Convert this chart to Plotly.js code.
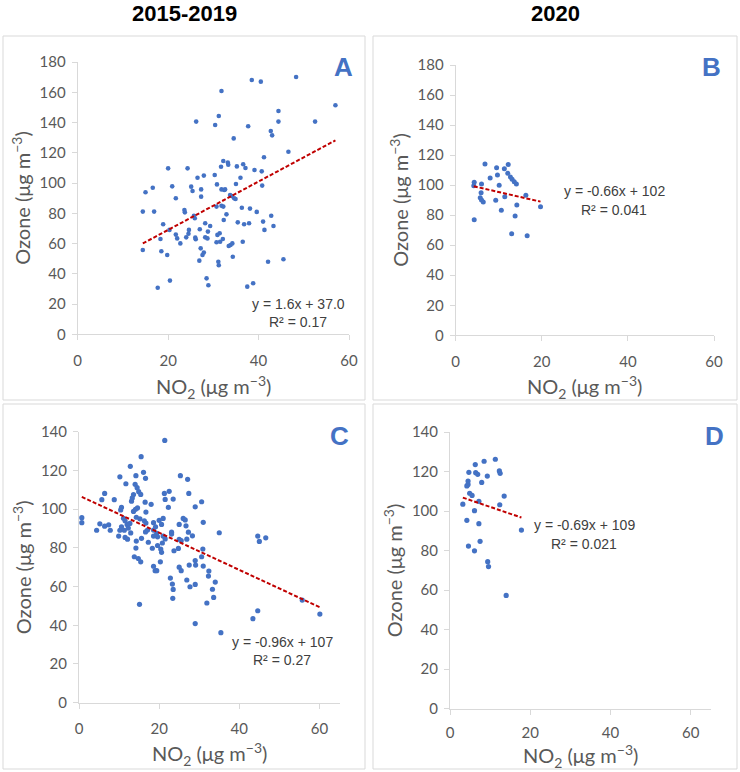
<!DOCTYPE html>
<html><head><meta charset="utf-8">
<script src="https://cdn.plot.ly/plotly-3.0.1.min.js"></script>
<style>html,body{margin:0;padding:0;background:#fff;}#chart{width:740px;height:772px;}</style>
</head><body><div id="chart"></div>
<script>
// ---------- DATA ----------
const columnTitles = ['2015-2019', '2020'];
const panelLabels = ['A', 'B', 'C', 'D'];
const xTickVals = [0, 20, 40, 60];
const yTickValsTop = [0, 20, 40, 60, 80, 100, 120, 140, 160, 180];
const yTickValsBottom = [0, 20, 40, 60, 80, 100, 120, 140];

const no2A = [14.4,14.4,15.0,16.6,16.9,17.7,18.3,18.5,18.9,19.8,20.0,20.3,20.4,20.9,21.7,21.7,22.0,22.7,23.6,23.7,24.0,24.3,24.6,24.5,25.1,25.4,25.7,25.9,26.0,26.1,26.2,26.5,26.9,27.0,27.2,27.3,27.3,27.6,27.9,27.9,28.2,28.2,28.5,28.7,28.8,28.9,29.3,30.3,30.4,30.7,30.7,30.8,30.9,31.1,31.2,31.2,31.4,31.5,31.7,31.8,31.8,31.8,32.1,32.2,32.2,32.4,32.3,32.6,32.9,33.2,33.3,33.4,33.7,33.8,34.1,34.2,34.3,34.5,34.6,34.9,35.0,35.2,35.4,36.0,36.3,36.5,36.6,36.8,37.1,37.5,37.7,37.9,38.1,38.5,38.8,39.1,39.6,40.5,40.7,40.8,41.0,41.2,41.3,42.1,42.7,42.8,43.0,43.3,44.4,44.4,45.5,46.6,48.3,52.5,57.0];
const ozoneA = [81.1,55.7,93.9,96.9,81.1,30.8,63.0,54.9,72.7,52.4,109.7,69.0,35.5,97.8,89.9,65.9,63.4,60.1,82.2,80.6,64.1,109.7,69.0,66.5,97.6,94.7,78.4,76.7,63.9,62.8,140.6,103.5,48.7,69.4,56.8,91.0,95.8,52.4,54.0,104.9,73.4,64.1,37.0,63.4,67.9,32.4,71.6,105.3,138.4,60.8,84.4,99.1,65.7,48.0,45.6,144.3,66.8,61.2,110.8,160.8,95.8,85.0,63.0,114.6,84.4,95.4,75.6,95.8,79.3,113.5,112.1,58.4,92.1,59.0,91.4,60.1,51.3,129.5,89.9,89.4,99.4,111.0,74.0,103.5,83.7,61.2,112.4,72.7,109.9,31.5,137.5,73.4,83.1,168.1,33.7,108.6,80.9,167.0,107.7,98.3,74.5,117.0,69.0,48.0,134.4,78.4,131.5,71.6,147.6,140.6,49.6,120.7,170.1,140.6,151.4];

const no2B = [6.8,9.5,11.3,12.2,12.1,12.7,13.1,13.6,14.1,9.7,8.0,4.3,4.2,6.0,10.1,5.9,5.7,6.0,6.4,9.3,11.4,16.3,14.2,19.7,10.6,13.8,4.3,13.0,16.6];
const ozoneB = [114.0,111.6,110.9,113.8,107.9,105.4,103.9,102.3,100.7,106.7,104.7,101.9,99.6,100.7,99.9,94.9,91.6,90.1,88.7,89.9,92.3,93.2,86.8,85.6,83.2,79.4,77.0,67.6,66.3];

const no2C = [21.4,15.5,12.8,10.2,14.2,16.1,16.6,11.7,14.0,14.5,14.9,15.4,25.3,27.1,6.4,5.7,8.8,13.6,13.3,13.1,16.5,18.0,21.3,22.5,21.5,23.5,27.4,30.6,22.3,10.6,10.4,14.1,14.6,13.6,16.7,29.0,0.7,0.7,4.4,5.2,6.4,7.4,7.8,11.1,11.5,10.6,12.0,10.2,11.3,14.3,15.2,16.3,16.7,12.7,12.3,9.9,11.5,12.1,12.9,14.3,15.6,16.6,17.1,18.6,19.1,20.0,21.0,20.6,18.6,19.4,19.6,18.6,17.3,18.3,19.6,20.8,21.5,20.4,20.6,21.0,23.1,23.1,25.0,26.0,26.5,26.7,25.0,25.5,23.7,24.8,26.9,27.3,28.3,31.0,30.9,30.6,35.0,14.2,13.8,14.8,15.4,18.6,19.0,19.4,20.3,25.0,25.5,27.5,29.0,29.1,31.0,32.4,32.3,22.8,23.3,23.5,23.4,26.9,27.7,29.0,33.3,34.0,33.6,31.9,15.1,29.0,35.4,44.6,45.0,46.6,55.7,60.1,44.6,43.4];
const ozoneC = [135.5,127.1,122.1,116.7,117.3,119.0,115.9,113.1,112.8,111.1,109.0,107.6,117.3,115.4,108.1,104.9,104.9,107.5,105.8,104.1,103.6,102.5,108.1,109.2,105.0,105.2,108.1,103.8,100.9,100.9,99.6,99.9,100.6,98.8,98.5,101.2,95.6,93.0,89.1,92.4,91.2,91.9,89.1,95.3,94.0,90.9,92.1,89.1,89.1,95.8,95.0,94.0,92.8,92.6,90.2,86.1,85.4,84.5,87.7,83.5,84.9,88.2,89.2,93.0,90.9,94.2,95.2,92.1,89.2,87.5,85.7,86.1,82.9,79.8,81.2,82.5,84.6,79.4,77.7,86.1,88.1,87.1,92.1,95.2,94.4,91.4,84.4,83.7,78.5,79.7,84.5,88.1,86.2,93.2,79.4,75.4,87.8,79.9,75.4,74.5,72.8,70.5,68.2,68.2,72.8,70.0,68.2,71.1,73.4,71.1,70.6,68.0,65.4,64.4,61.3,58.5,53.9,63.4,59.9,61.1,58.6,62.3,54.4,51.5,50.8,40.9,36.2,86.1,83.3,85.2,53.0,45.8,47.5,43.4];

const no2D = [11.3,8.5,6.3,4.7,6.4,6.9,12.3,12.5,9.3,7.9,4.5,4.5,4.2,4.9,5.5,13.5,3.2,7.2,12.4,6.1,4.2,7.2,17.8,7.5,4.6,6.1,9.4,9.6,14.0];
const ozoneD = [126.2,125.2,123.5,119.6,119.4,118.6,120.3,119.1,117.7,114.5,115.2,113.5,112.7,109.0,107.9,107.6,103.5,104.9,103.2,100.2,95.3,93.6,90.4,84.7,82.3,79.9,74.4,71.9,57.3];

const slopes = [1.6, -0.66, -0.96, -0.69];
const intercepts = [37.0, 102, 107, 109];
const eqTexts = ['y = 1.6x + 37.0', 'y = -0.66x + 102', 'y = -0.96x + 107', 'y = -0.69x + 109'];
const r2Texts = ['R² = 0.17', 'R² = 0.041', 'R² = 0.27', 'R² = 0.021'];

// ---------- LAYOUT GEOMETRY (pixels) ----------
const W = 740, H = 772;
const fx = p => p / W;
const fy = p => 1 - p / H;

const seriesX = [no2A, no2B, no2C, no2D];
const seriesY = [ozoneA, ozoneB, ozoneC, ozoneD];

const panels = [
  {xd:[77.7,349], yd:[334.3,62],  xr:[0,60], yr:[0,180], yt:yTickValsTop,    border:[3,36,365,400],  label:[343,67],  eq:[298,304], r2:[298,322], xt:387, xs:8, ms:4.6},
  {xd:[455.7,714],yd:[335.3,65],  xr:[0,60], yr:[0,180], yt:yTickValsTop,    border:[373,36,737,400],label:[711,67],  eq:[614,191], r2:[614,210], xt:387, xs:8, ms:5},
  {xd:[79,339.5], yd:[702.7,431.7],xr:[0,65],yr:[0,140], yt:yTickValsBottom, border:[3,404,365,769], label:[339,436], eq:[282,642], r2:[282,660], xt:754, xs:7, ms:5.2},
  {xd:[450,710.8],yd:[708.7,432], xr:[0,65], yr:[0,140], yt:yTickValsBottom, border:[373,404,737,769],label:[714,436], eq:[584,525], r2:[584,544], xt:756, xs:5, ms:5.2}
];

const tickFont = {family:'Lato, "Open Sans", sans-serif', size:15, color:'#595959'};
const titleFont = {family:'Lato, "Open Sans", sans-serif', size:20, color:'#595959'};
const eqFont = {family:'"Liberation Sans Narrow", "Liberation Sans", Arial, sans-serif', size:14, color:'#404040'};

const traces = [];
const layout = {
  width: W, height: H,
  margin: {l:0, r:0, t:0, b:0},
  paper_bgcolor: '#ffffff', plot_bgcolor: 'rgba(0,0,0,0)',
  showlegend: false,
  annotations: [],
  shapes: []
};

panels.forEach((p, i) => {
  const n = i + 1;
  const xa = n === 1 ? 'x' : 'x' + n;
  const ya = n === 1 ? 'y' : 'y' + n;
  const xs = seriesX[i], ys = seriesY[i];

  traces.push({
    type: 'scatter', mode: 'markers', x: xs, y: ys, xaxis: xa, yaxis: ya,
    marker: {color: '#4472C4', size: p.ms}, hoverinfo: 'x+y', cliponaxis: false
  });
  const xmin = Math.min(...xs), xmax = Math.max(...xs);
  traces.push({
    type: 'scatter', mode: 'lines', x: [xmin, xmax],
    y: [slopes[i] * xmin + intercepts[i], slopes[i] * xmax + intercepts[i]],
    xaxis: xa, yaxis: ya,
    line: {color: '#C00000', width: 2, dash: '4px,2px'}, hoverinfo: 'skip'
  });

  const axBase = {
    showgrid: false, zeroline: false, showline: true, linecolor: '#D9D9D9', linewidth: 1,
    ticks: 'outside', ticklen: 5, tickwidth: 1, tickcolor: '#D9D9D9',
    tickfont: tickFont, fixedrange: true, autorange: false
  };
  layout['xaxis' + (n === 1 ? '' : n)] = Object.assign({}, axBase, {
    domain: [fx(p.xd[0]), fx(p.xd[1])], range: p.xr, anchor: ya,
    tickmode: 'array', tickvals: xTickVals, ticklabelstandoff: p.xs
  });
  layout['yaxis' + (n === 1 ? '' : n)] = Object.assign({}, axBase, {
    domain: [fy(p.yd[0]), fy(p.yd[1])], range: p.yr, anchor: xa,
    tickmode: 'array', tickvals: p.yt, ticklabelstandoff: 3
  });

  // panel border
  layout.shapes.push({type:'rect', xref:'paper', yref:'paper',
    x0: fx(p.border[0]), x1: fx(p.border[2]), y0: fy(p.border[3]), y1: fy(p.border[1]),
    line: {color:'#D9D9D9', width:1}, fillcolor:'rgba(0,0,0,0)', layer:'below'});

  // axis titles
  const cx = (p.xd[0] + p.xd[1]) / 2, cy = (p.yd[0] + p.yd[1]) / 2;
  layout.annotations.push({xref:'paper', yref:'paper', x: fx(cx), y: fy(p.xt),
    text: 'NO<sub>2</sub> (μg m<sup>−3</sup>)', showarrow:false, font:titleFont, xanchor:'center', yanchor:'middle'});
  layout.annotations.push({xref:'paper', yref:'paper', x: fx(p.xd[0] - 57), y: fy(cy),
    text: 'Ozone (μg m<sup>−3</sup>)', textangle:-90, showarrow:false, font:titleFont, xanchor:'center', yanchor:'middle'});

  // panel letter
  layout.annotations.push({xref:'paper', yref:'paper', x: fx(p.label[0]), y: fy(p.label[1]),
    text: '<b>' + panelLabels[i] + '</b>', showarrow:false,
    font:{family:'"Liberation Sans", Arial, sans-serif', size:26, color:'#4472C4'}, xanchor:'center', yanchor:'middle'});

  // equation and R²
  layout.annotations.push({xref:'paper', yref:'paper', x: fx(p.eq[0]), y: fy(p.eq[1]),
    text: eqTexts[i], showarrow:false, font:eqFont, xanchor:'center', yanchor:'middle'});
  layout.annotations.push({xref:'paper', yref:'paper', x: fx(p.r2[0]), y: fy(p.r2[1]),
    text: r2Texts[i], showarrow:false, font:eqFont, xanchor:'center', yanchor:'middle'});
});

// column titles
const colCenters = [184, 555];
columnTitles.forEach((t, k) => {
  layout.annotations.push({xref:'paper', yref:'paper', x: fx(colCenters[k]), y: fy(14),
    text: '<b>' + t + '</b>', showarrow:false,
    font:{family:'"Liberation Sans Narrow", "Liberation Sans", Arial, sans-serif', size:22, color:'#000000'},
    xanchor:'center', yanchor:'middle'});
});

Plotly.newPlot('chart', traces, layout, {staticPlot: true, displayModeBar: false});
</script>
</body></html>
